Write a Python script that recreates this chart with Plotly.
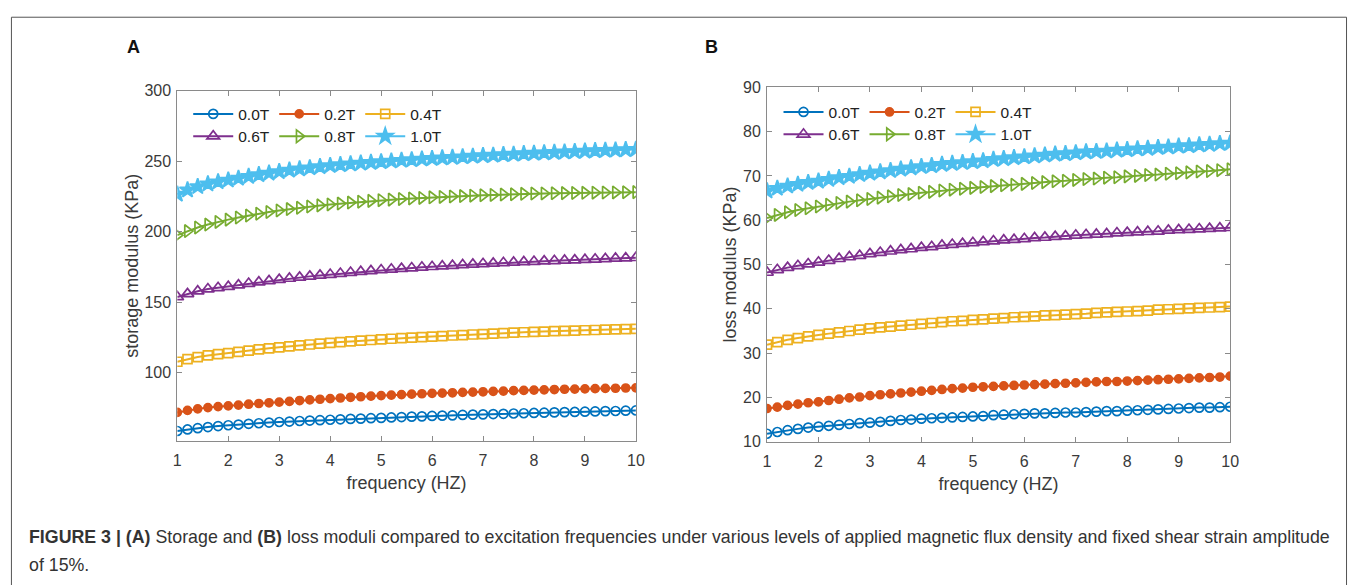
import plotly.graph_objects as go

# Excitation frequency (Hz)
freq = [1.0, 1.2, 1.4, 1.6, 1.8, 2.0, 2.2, 2.4, 2.6, 2.8,
        3.0, 3.2, 3.4, 3.6, 3.8, 4.0, 4.2, 4.4, 4.6, 4.8,
        5.0, 5.2, 5.4, 5.6, 5.8, 6.0, 6.2, 6.4, 6.6, 6.8,
        7.0, 7.2, 7.4, 7.6, 7.8, 8.0, 8.2, 8.4, 8.6, 8.8,
        9.0, 9.2, 9.4, 9.6, 9.8, 10.0]

field_labels = ["0.0T", "0.2T", "0.4T", "0.6T", "0.8T", "1.0T"]

# Storage modulus (KPa)
storage_00 = [58.7, 59.8, 60.7, 61.5, 62.2, 62.8, 63.3, 63.8, 64.2, 64.7,
              65.1, 65.4, 65.8, 66.1, 66.4, 66.7, 67.0, 67.3, 67.5, 67.8,
              68.0, 68.3, 68.6, 68.9, 69.1, 69.4, 69.6, 69.8, 70.1, 70.3,
              70.5, 70.7, 70.9, 71.1, 71.3, 71.5, 71.7, 71.9, 72.1, 72.2,
              72.4, 72.6, 72.8, 72.9, 73.1, 73.3]
storage_02 = [71.9, 73.3, 74.4, 75.3, 76.0, 76.5, 77.1, 77.7, 78.2, 78.7,
              79.2, 79.7, 80.3, 80.8, 81.2, 81.7, 82.1, 82.6, 83.0, 83.4,
              83.8, 84.1, 84.5, 84.8, 85.1, 85.4, 85.6, 85.8, 86.1, 86.3,
              86.5, 86.8, 87.0, 87.3, 87.5, 87.7, 87.9, 88.1, 88.3, 88.4,
              88.6, 88.7, 88.9, 89.0, 89.2, 89.3]
storage_04 = [107.8, 109.6, 111.1, 112.3, 113.2, 113.9, 114.8, 115.7, 116.5, 117.3,
              118.0, 118.7, 119.4, 120.0, 120.6, 121.2, 121.7, 122.2, 122.7, 123.2,
              123.7, 124.1, 124.5, 124.9, 125.3, 125.6, 126.0, 126.4, 126.7, 127.1,
              127.4, 127.7, 128.1, 128.4, 128.7, 129.0, 129.2, 129.5, 129.7, 129.9,
              130.1, 130.3, 130.5, 130.7, 130.9, 131.1]
storage_06 = [153.7, 155.9, 157.8, 159.3, 160.2, 161.0, 162.1, 163.2, 164.2, 165.1,
              166.0, 166.8, 167.6, 168.3, 169.0, 169.6, 170.3, 171.0, 171.6, 172.2,
              172.8, 173.3, 173.8, 174.2, 174.7, 175.1, 175.5, 175.9, 176.4, 176.8,
              177.2, 177.5, 177.9, 178.2, 178.5, 178.8, 179.1, 179.3, 179.6, 179.8,
              180.1, 180.4, 180.7, 181.0, 181.2, 181.5]
storage_08 = [197.5, 200.4, 202.9, 205.0, 206.9, 208.5, 210.0, 211.4, 212.7, 213.9,
              215.0, 216.0, 216.9, 217.8, 218.6, 219.3, 219.9, 220.6, 221.2, 221.8,
              222.3, 222.7, 223.1, 223.5, 223.9, 224.3, 224.6, 224.9, 225.2, 225.5,
              225.8, 226.0, 226.3, 226.5, 226.8, 227.0, 227.1, 227.2, 227.3, 227.4,
              227.5, 227.6, 227.7, 227.8, 227.9, 228.0]
storage_10 = [226.5, 229.5, 231.9, 233.8, 235.3, 236.5, 237.8, 239.1, 240.3, 241.4,
              242.5, 243.5, 244.4, 245.2, 246.0, 246.8, 247.4, 248.0, 248.5, 249.0,
              249.5, 250.0, 250.5, 250.9, 251.4, 251.8, 252.2, 252.6, 253.0, 253.4,
              253.8, 254.1, 254.5, 254.8, 255.2, 255.5, 255.8, 256.1, 256.4, 256.7,
              257.0, 257.3, 257.6, 257.8, 258.1, 258.3]

# Loss modulus (KPa)
loss_00 = [11.8, 12.2, 12.6, 12.9, 13.2, 13.4, 13.6, 13.8, 14.0, 14.2,
           14.3, 14.5, 14.7, 14.9, 15.0, 15.2, 15.3, 15.4, 15.5, 15.6,
           15.7, 15.8, 16.0, 16.1, 16.2, 16.3, 16.4, 16.4, 16.5, 16.6,
           16.6, 16.7, 16.8, 16.9, 16.9, 17.0, 17.1, 17.2, 17.3, 17.4,
           17.5, 17.6, 17.7, 17.7, 17.8, 17.9]
loss_02 = [17.5, 17.8, 18.2, 18.5, 18.8, 19.0, 19.3, 19.6, 19.9, 20.1,
           20.4, 20.6, 20.8, 21.0, 21.2, 21.4, 21.6, 21.8, 22.0, 22.1,
           22.3, 22.4, 22.5, 22.6, 22.7, 22.8, 22.9, 23.0, 23.1, 23.2,
           23.3, 23.4, 23.5, 23.6, 23.6, 23.7, 23.8, 23.9, 24.0, 24.1,
           24.2, 24.3, 24.4, 24.5, 24.6, 24.8]
loss_04 = [31.9, 32.5, 33.0, 33.4, 33.8, 34.1, 34.4, 34.7, 35.0, 35.3,
           35.6, 35.8, 36.0, 36.2, 36.4, 36.6, 36.8, 37.0, 37.2, 37.3,
           37.5, 37.6, 37.8, 37.9, 38.1, 38.2, 38.3, 38.5, 38.6, 38.7,
           38.8, 38.9, 39.1, 39.2, 39.3, 39.4, 39.5, 39.6, 39.8, 39.9,
           40.0, 40.1, 40.2, 40.3, 40.4, 40.5]
loss_06 = [48.2, 48.8, 49.3, 49.7, 50.1, 50.5, 50.9, 51.3, 51.7, 52.0,
           52.4, 52.7, 53.0, 53.3, 53.5, 53.8, 54.0, 54.3, 54.5, 54.7,
           54.9, 55.1, 55.3, 55.5, 55.6, 55.8, 56.0, 56.1, 56.3, 56.4,
           56.6, 56.7, 56.8, 56.9, 57.1, 57.2, 57.3, 57.4, 57.5, 57.7,
           57.8, 57.9, 58.0, 58.1, 58.2, 58.3]
loss_08 = [60.5, 61.2, 61.8, 62.3, 62.7, 63.1, 63.5, 63.9, 64.2, 64.5,
           64.8, 65.1, 65.4, 65.7, 65.9, 66.2, 66.4, 66.7, 66.9, 67.1,
           67.3, 67.5, 67.7, 67.9, 68.0, 68.2, 68.4, 68.6, 68.8, 68.9,
           69.1, 69.3, 69.4, 69.6, 69.7, 69.9, 70.0, 70.2, 70.3, 70.5,
           70.6, 70.8, 71.0, 71.1, 71.3, 71.5]
loss_10 = [66.6, 67.2, 67.7, 68.1, 68.5, 68.8, 69.2, 69.6, 69.9, 70.3,
           70.6, 70.9, 71.2, 71.5, 71.8, 72.1, 72.3, 72.6, 72.8, 73.0,
           73.2, 73.4, 73.7, 73.9, 74.1, 74.3, 74.5, 74.7, 74.9, 75.0,
           75.2, 75.4, 75.5, 75.6, 75.8, 75.9, 76.1, 76.2, 76.4, 76.5,
           76.7, 76.8, 77.0, 77.1, 77.3, 77.4]

storage_series = [storage_00, storage_02, storage_04, storage_06, storage_08, storage_10]
loss_series = [loss_00, loss_02, loss_04, loss_06, loss_08, loss_10]

colors = ["#0072BD", "#D95319", "#EDB120", "#7E2F8E", "#77AC30", "#4DBEEE"]
symbols = ["circle-open", "circle", "square-open", "triangle-up-open",
           "triangle-right-open", "star"]
sizes = [9, 8, 9, 11, 11, 12]

FONT = "Liberation Sans, Arial, sans-serif"
AXIS_GREY = "#8a8a8a"
TEXT_GREY = "#3a3a3a"

fig = go.Figure()

panels = [
    (storage_series, "x", "y", ("legend", "legend2")),
    (loss_series, "x2", "y2", ("legend3", "legend4")),
]
for series, xa, ya, legends in panels:
    for i, values in enumerate(series):
        fig.add_trace(go.Scatter(
            x=freq, y=values, xaxis=xa, yaxis=ya,
            mode="lines+markers", name=field_labels[i],
            legend=legends[0] if i < 3 else legends[1],
            line=dict(color=colors[i], width=2),
            marker=dict(symbol=symbols[i], size=sizes[i], color=colors[i],
                        line=dict(color=colors[i], width=1.7)),
        ))

W, H = 1358, 585


def px_x(v):
    return v / W


def px_y(v):
    return 1 - v / H


axis_common = dict(
    showline=True, linecolor=AXIS_GREY, linewidth=1, mirror="ticks",
    ticks="inside", ticklen=5, tickcolor=AXIS_GREY, tickwidth=1,
    showgrid=False, zeroline=False,
    tickfont=dict(family=FONT, size=16, color=TEXT_GREY),
)
x_common = dict(axis_common, range=[1, 10], ticklabelstandoff=5,
                tickvals=[1, 2, 3, 4, 5, 6, 7, 8, 9, 10])
y_common = dict(axis_common, ticklabelstandoff=2)

title_font = dict(family=FONT, size=18, color=TEXT_GREY)

fig.update_layout(
    width=W, height=H,
    margin=dict(l=0, r=0, t=0, b=0),
    paper_bgcolor="white", plot_bgcolor="white",
    font=dict(family=FONT, color=TEXT_GREY),
    xaxis=dict(x_common, domain=[px_x(175), px_x(638)], anchor="y",
               title=dict(text="frequency (HZ)", font=title_font, standoff=8)),
    yaxis=dict(y_common, domain=[px_y(446), px_y(85)], range=[51.6, 300],
               tickvals=[100, 150, 200, 250, 300], anchor="x",
               title=dict(text="storage modulus (KPa)", font=title_font, standoff=1)),
    xaxis2=dict(x_common, domain=[px_x(770.4), px_x(1238)], anchor="y2",
                title=dict(text="frequency (HZ)", font=title_font, standoff=8)),
    yaxis2=dict(y_common, domain=[px_y(446.7), px_y(81.7)], range=[10, 90],
                tickvals=[10, 20, 30, 40, 50, 60, 70, 80, 90], anchor="x2",
                title=dict(text="loss modulus (KPa)", font=title_font, standoff=1)),
    showlegend=True,
)

legend_common = dict(
    orientation="h", xanchor="left", yanchor="middle",
    bgcolor="rgba(0,0,0,0)", borderwidth=0,
    font=dict(family=FONT, size=15.5, color="#222222"),
    entrywidth=31, entrywidthmode="pixels", itemwidth=40,
    itemclick=False, itemdoubleclick=False,
)
fig.update_layout(
    legend=dict(legend_common, x=px_x(186), y=px_y(109.5)),
    legend2=dict(legend_common, x=px_x(186), y=px_y(132.5)),
    legend3=dict(legend_common, x=px_x(782), y=px_y(107.5)),
    legend4=dict(legend_common, x=px_x(782), y=px_y(130.5)),
)

# Panel letters
for letter, xpos in (("A", 130.5), ("B", 714.5)):
    fig.add_annotation(text=f"<b>{letter}</b>", xref="paper", yref="paper",
                       x=px_x(xpos), y=px_y(40), xanchor="center", yanchor="middle",
                       showarrow=False, font=dict(family=FONT, size=18, color="#111111"))

# Caption
caption_1 = ("<b>FIGURE 3 | (A)</b> Storage and <b>(B)</b> loss moduli compared to excitation "
             "frequencies under various levels of applied magnetic flux density and fixed "
             "shear strain amplitude")
caption_2 = "of 15%."
for line, ypos in ((caption_1, 545), (caption_2, 573.5)):
    fig.add_annotation(text=line, xref="paper", yref="paper",
                       x=px_x(23), y=px_y(ypos), xanchor="left", yanchor="middle",
                       showarrow=False, font=dict(family=FONT, size=17.8, color="#333333"))

# Figure frame (open at the bottom edge)
fig.add_shape(type="rect", xref="paper", yref="paper",
              x0=px_x(7.5), x1=px_x(1355.5), y0=-0.05, y1=px_y(9.5),
              line=dict(color="#555555", width=1), fillcolor="rgba(0,0,0,0)")

fig.write_html("out.html",
               post_script="document.body.style.margin='0';document.body.style.padding='0';")
